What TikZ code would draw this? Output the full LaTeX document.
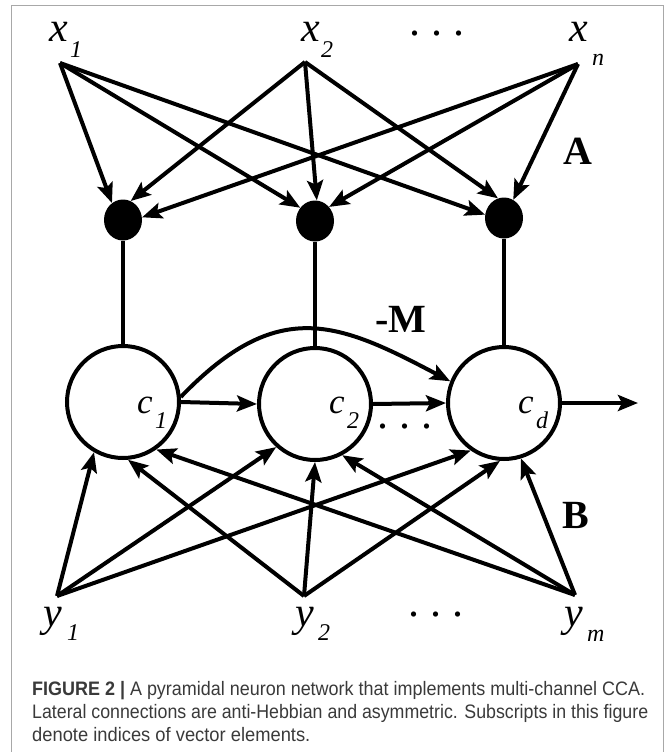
\documentclass[tikz,border=0pt]{standalone}
\usepackage{graphicx}
\usepackage{fontspec}
\setmainfont{Liberation Serif}
\newfontfamily\capsans{Liberation Sans}
\usetikzlibrary{arrows.meta,shapes.geometric}
\definecolor{framegray}{HTML}{A8A8A8}
\definecolor{captext}{HTML}{3A3A3A}
\tikzset{
  wire/.style={line width=4pt, black},
  arr/.style={wire, -{Stealth[length=20pt, width=16pt, inset=4pt]}},
  stem/.style={line width=3.4pt, black},
  synapse/.style={ellipse, fill=black, draw=none, minimum width=38pt, minimum height=41pt, inner sep=0pt},
  neuron/.style={circle, draw=black, line width=4pt, minimum size=112pt, inner sep=0pt},
  var/.style={font=\itshape\fontsize{42}{42}\selectfont, inner sep=0pt, anchor=base west},
  sub/.style={font=\itshape\fontsize{24}{24}\selectfont, inner sep=0pt, anchor=base west},
  cvar/.style={font=\itshape\fontsize{35}{35}\selectfont, inner sep=0pt, anchor=base west},
  mat/.style={font=\bfseries\fontsize{40}{40}\selectfont, inner sep=0pt},
  ell/.style={font=\fontsize{44}{44}\selectfont, inner sep=0pt, anchor=base},
  capline/.style={font=\capsans\fontsize{19.5}{19.5}\selectfont, text=captext, inner sep=0pt, anchor=base west},
}
\newcommand{\threedots}{.\hspace{11pt}.\hspace{11pt}.}
\begin{document}
\begin{tikzpicture}[x=1pt, y=-1pt]
  \useasboundingbox (0,0) rectangle (670,752);
  \fill[white] (0,0) rectangle (670,752);
  \draw[framegray, line width=1.4pt] (11.5,5.5) -- (11.5,760) (11.5,5.5) -- (663.5,5.5) -- (663.5,760);

  % input sources x and y
  \coordinate (x1) at (60,63);
  \coordinate (x2) at (305,62);
  \coordinate (xn) at (578,64);
  \coordinate (y1) at (57,596);
  \coordinate (y2) at (304,596);
  \coordinate (ym) at (575,595);

  \node[var] (x1v) at (49,42) {x};
  \node[sub] (x1s) at (70,58) {1};
  \node[var] (x2v) at (301,42) {x};
  \node[sub] (x2s) at (321,58) {2};
  \node[var] (xnv) at (569,42) {x};
  \node[sub] (xns) at (592,66) {n};
  \node[ell] (xdots) at (437,36) {\threedots};

  \node[var] (y1v) at (43,626) {y};
  \node[sub] (y1s) at (67,640) {1};
  \node[var] (y2v) at (295,626) {y};
  \node[sub] (y2s) at (318,640) {2};
  \node[var] (ymv) at (564,626) {y};
  \node[sub] (yms) at (587,641) {m};
  \node[ell] (ydots) at (436,616) {\threedots};

  % synapses on the apical dendrites
  \node[synapse] (d1) at (123,220) {};
  \node[synapse] (d2) at (315,221) {};
  \node[synapse] (d3) at (504,218) {};

  % output neurons
  \node[neuron] (c1) at (123,402) {};
  \node[neuron] (c2) at (315,404) {};
  \node[neuron] (c3) at (504,403) {};

  \node[cvar] (c1v) at (137,413) {c};
  \node[sub]  (c1s) at (155,428) {1};
  \node[cvar] (c2v) at (329,413) {c};
  \node[sub]  (c2s) at (347,428) {2};
  \node[cvar] (c3v) at (518,413) {c};
  \node[sub]  (c3s) at (536,428) {d};
  \node[ell] (cdots) at (405,428) {\threedots};

  % weight labels
  \node[mat] (lA) at (578,151) {A};
  \node[mat] (lB) at (576,515) {B};
  \node[mat] (lM) at (401,319) {-M};

  % feedforward weights A
  \draw[arr] (x1) -- (d1.123);
  \draw[arr] (x1) -- (d2.138);
  \draw[arr] (x1) -- (d3.170);
  \draw[arr] (x2) -- (d1.68);
  \draw[arr] (x2) -- (d2.85);
  \draw[arr] (x2) -- (d3.107);
  \draw[arr] (xn) -- (d1.8);
  \draw[arr] (xn) -- (d2.45);
  \draw[arr] (xn) -- (d3.63);

  % dendrites to somata
  \draw[stem] (d1.south) -- (c1.north);
  \draw[stem] (d2.south) -- (c2.north);
  \draw[stem] (d3.south) -- (c3.north);

  % feedforward weights B
  \draw[arr] (y1) -- (c1.240);
  \draw[arr] (y1) -- (c2.228);
  \draw[arr] (y1) -- (c3.235);
  \draw[arr] (y2) -- (c1.275);
  \draw[arr] (y2) -- (c2.270);
  \draw[arr] (y2) -- (c3.266);
  \draw[arr] (ym) -- (c1.305);
  \draw[arr] (ym) -- (c2.298);
  \draw[arr] (ym) -- (c3.287);

  % lateral connections -M and output
  \coordinate (out) at (638,403);
  \draw[arr] (c1.east) -- (c2.west);
  \draw[arr] (c2.east) -- (c3.west);
  \draw[arr] (c3.east) -- (out);
  \draw[arr] (c1.5) .. controls (278,296) and (338,322) .. (c3.158);

  % caption, set in a slightly condensed sans
  \node[capline] (cap1) at (32,695) {\resizebox{613pt}{\height}{\textbf{FIGURE 2 |} A pyramidal neuron network that implements multi-channel CCA.}};
  \node[capline] (cap2) at (32,718) {\resizebox{616pt}{\height}{Lateral connections are anti-Hebbian and asymmetric. Subscripts in this figure}};
  \node[capline] (cap3) at (32,741) {\scalebox{0.94}[1]{denote indices of vector elements.}};
\end{tikzpicture}
\end{document}
